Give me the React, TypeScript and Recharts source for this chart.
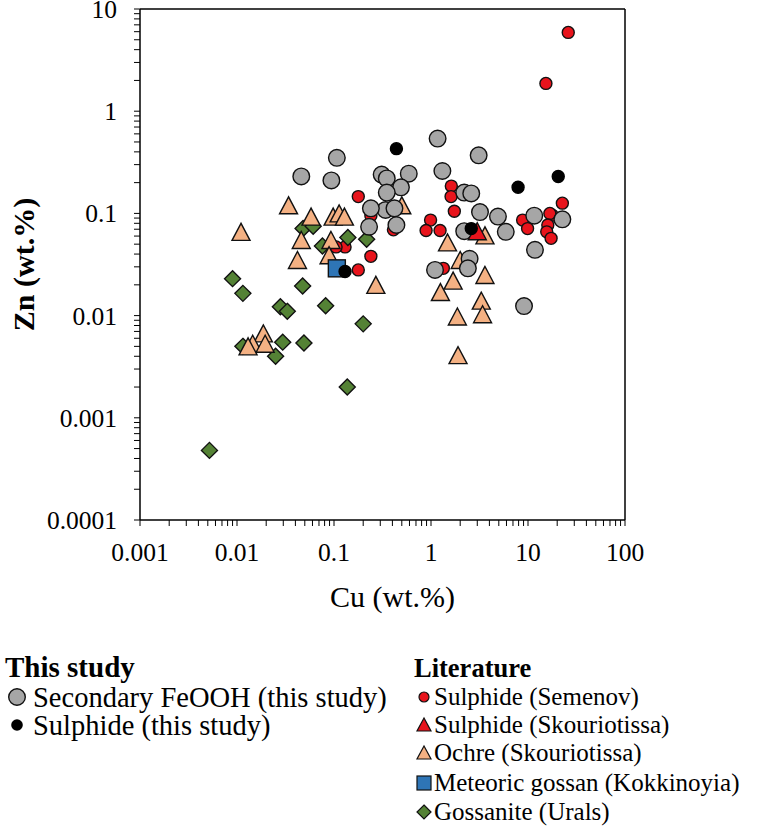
import React from 'react';
import {
  ScatterChart, Scatter, XAxis, YAxis, ReferenceLine,
} from 'recharts';

// Cu vs Zn (wt.%) for secondary FeOOH, sulphides, ochres and gossans

const feoohThisStudy = [
  { cu: 0.046, zn: 0.23 }, { cu: 0.107, zn: 0.35 }, { cu: 0.094, zn: 0.21 },
  { cu: 0.31, zn: 0.24 }, { cu: 0.35, zn: 0.22 }, { cu: 0.59, zn: 0.245 },
  { cu: 0.49, zn: 0.18 }, { cu: 0.35, zn: 0.16 }, { cu: 1.17, zn: 0.54 },
  { cu: 3.1, zn: 0.37 }, { cu: 1.31, zn: 0.26 }, { cu: 2.2, zn: 0.16 },
  { cu: 2.6, zn: 0.157 }, { cu: 0.34, zn: 0.108 }, { cu: 0.42, zn: 0.112 },
  { cu: 0.24, zn: 0.112 }, { cu: 0.44, zn: 0.077 }, { cu: 0.23, zn: 0.074 },
  { cu: 3.2, zn: 0.103 }, { cu: 4.9, zn: 0.093 }, { cu: 5.9, zn: 0.066 },
  { cu: 11.6, zn: 0.095 }, { cu: 22.6, zn: 0.0875 }, { cu: 11.8, zn: 0.044 },
  { cu: 2.2, zn: 0.067 }, { cu: 2.5, zn: 0.036 }, { cu: 2.4, zn: 0.029 },
  { cu: 1.1, zn: 0.028 }, { cu: 9.1, zn: 0.0124 },
];

const sulphideThisStudy = [
  { cu: 0.44, zn: 0.43 }, { cu: 7.9, zn: 0.18 }, { cu: 20.5, zn: 0.23 },
  { cu: 2.6, zn: 0.071 }, { cu: 0.13, zn: 0.027 },
];

const sulphideSemenov = [
  { cu: 26, zn: 5.9 }, { cu: 15.3, zn: 1.87 }, { cu: 1.62, zn: 0.185 },
  { cu: 1.61, zn: 0.146 }, { cu: 1.74, zn: 0.105 }, { cu: 0.99, zn: 0.086 },
  { cu: 0.89, zn: 0.068 }, { cu: 1.24, zn: 0.068 }, { cu: 1.34, zn: 0.029 },
  { cu: 8.8, zn: 0.086 }, { cu: 9.9, zn: 0.071 }, { cu: 22.6, zn: 0.126 },
  { cu: 17.8, zn: 0.096 }, { cu: 16.8, zn: 0.1 }, { cu: 16, zn: 0.077 },
  { cu: 15.6, zn: 0.066 }, { cu: 17.3, zn: 0.057 }, { cu: 0.178, zn: 0.146 },
  { cu: 0.24, zn: 0.095 }, { cu: 0.41, zn: 0.069 }, { cu: 0.24, zn: 0.038 },
  { cu: 0.178, zn: 0.028 }, { cu: 0.13, zn: 0.047 }, { cu: 0.105, zn: 0.047 },
];

const sulphideSkouriotissa = [{ cu: 3.0, zn: 0.067 }];

const ochreSkouriotissa = [
  { cu: 0.034, zn: 0.12 }, { cu: 0.011, zn: 0.066 }, { cu: 0.058, zn: 0.093 },
  { cu: 0.098, zn: 0.093 }, { cu: 0.113, zn: 0.1 }, { cu: 0.128, zn: 0.093 },
  { cu: 0.046, zn: 0.055 }, { cu: 0.093, zn: 0.055 }, { cu: 0.089, zn: 0.039 },
  { cu: 0.042, zn: 0.035 }, { cu: 0.27, zn: 0.02 }, { cu: 0.0187, zn: 0.0067 },
  { cu: 0.0145, zn: 0.0053 }, { cu: 0.0195, zn: 0.0053 }, { cu: 0.013, zn: 0.005 },
  { cu: 0.5, zn: 0.12 }, { cu: 1.48, zn: 0.052 }, { cu: 3.6, zn: 0.061 },
  { cu: 2.0, zn: 0.035 }, { cu: 3.6, zn: 0.025 }, { cu: 1.69, zn: 0.022 },
  { cu: 1.25, zn: 0.017 }, { cu: 3.3, zn: 0.014 }, { cu: 3.4, zn: 0.0103 },
  { cu: 1.87, zn: 0.0098 }, { cu: 1.9, zn: 0.0041 },
];

const meteoricGossan = [{ cu: 0.107, zn: 0.029 }];

const gossaniteUrals = [
  { cu: 0.009, zn: 0.023 }, { cu: 0.0115, zn: 0.0165 }, { cu: 0.048, zn: 0.071 },
  { cu: 0.061, zn: 0.075 }, { cu: 0.076, zn: 0.048 }, { cu: 0.139, zn: 0.058 },
  { cu: 0.217, zn: 0.056 }, { cu: 0.0475, zn: 0.0195 }, { cu: 0.028, zn: 0.0122 },
  { cu: 0.033, zn: 0.011 }, { cu: 0.082, zn: 0.0125 }, { cu: 0.2, zn: 0.0083 },
  { cu: 0.0115, zn: 0.005 }, { cu: 0.0296, zn: 0.0055 }, { cu: 0.049, zn: 0.0054 },
  { cu: 0.025, zn: 0.004 }, { cu: 0.137, zn: 0.002 }, { cu: 0.0052, zn: 0.00048 },
];

const xMajorTicks = [0.001, 0.01, 0.1, 1, 10, 100];
const yMajorTicks = [0.0001, 0.001, 0.01, 0.1, 1, 10];

const FONT = '"Liberation Serif", "Times New Roman", serif';
const GRAY = '#a6a6a6';
const RED = '#e8141c';
const OCHRE = '#f4b183';
const BLUE = '#2e75b6';
const GREEN = '#548235';
const EDGE = '#111';

// 1..9 x 10^n ticks across the decades of a log axis
const logTicks = (majors: number[]) => {
  const out: number[] = [];
  for (let i = 0; i < majors.length - 1; i++) {
    for (let m = 1; m < 10; m++) out.push(Number((m * majors[i]).toPrecision(3)));
  }
  out.push(majors[majors.length - 1]);
  return out;
};

const circle = (r: number, fill: string, stroke = EDGE) => (p: any) => (
  <circle cx={p.cx} cy={p.cy} r={r} fill={fill} stroke={stroke} strokeWidth={1.4} />
);

const triangle = (w: number, h: number, fill: string) => (p: any) => (
  <polygon
    points={`${p.cx},${p.cy - h / 2} ${p.cx - w / 2},${p.cy + h / 2} ${p.cx + w / 2},${p.cy + h / 2}`}
    fill={fill} stroke={EDGE} strokeWidth={1.4} strokeLinejoin="miter"
  />
);

const square = (s: number, fill: string) => (p: any) => (
  <rect x={p.cx - s / 2} y={p.cy - s / 2} width={s} height={s} fill={fill} stroke={EDGE} strokeWidth={1.4} />
);

const diamond = (d: number, fill: string) => (p: any) => (
  <polygon
    points={`${p.cx},${p.cy - d / 2} ${p.cx + d / 2},${p.cy} ${p.cx},${p.cy + d / 2} ${p.cx - d / 2},${p.cy}`}
    fill={fill} stroke={EDGE} strokeWidth={1.4}
  />
);

// two-column key under the plot: this study (left), literature (right)
const Legend = () => {
  const left = { fontFamily: FONT, fontSize: 28.5, fill: '#000' };
  const right = { fontFamily: FONT, fontSize: 25, fill: '#000' };
  const rows = [705, 733, 761, 791, 820];
  const ix = 424;
  const tx = 434;
  return (
    <svg width={762} height={826} style={{ position: 'absolute', left: 0, top: 0, pointerEvents: 'none' }}>
      <text x={5} y={677} {...left} fontSize={29} fontWeight="bold">This study</text>
      <circle cx={17} cy={697} r={8.3} fill={GRAY} stroke={EDGE} strokeWidth={1.4} />
      <text x={33} y={707} {...left}>Secondary FeOOH (this study)</text>
      <circle cx={17} cy={725} r={5.8} fill="#000" />
      <text x={33} y={735} {...left}>Sulphide (this study)</text>

      <text x={ix - 10} y={677} {...right} fontSize={26.5} fontWeight="bold">Literature</text>
      <circle cx={ix} cy={697} r={5} fill={RED} stroke={EDGE} strokeWidth={1.2} />
      <text x={tx} y={rows[0]} {...right}>Sulphide (Semenov)</text>
      <polygon points={`${ix},718 ${ix - 7},731 ${ix + 7},731`} fill={RED} stroke={EDGE} strokeWidth={1.2} />
      <text x={tx} y={rows[1]} {...right}>Sulphide (Skouriotissa)</text>
      <polygon points={`${ix},746 ${ix - 7},759 ${ix + 7},759`} fill={OCHRE} stroke={EDGE} strokeWidth={1.2} />
      <text x={tx} y={rows[2]} {...right}>Ochre (Skouriotissa)</text>
      <rect x={ix - 7} y={776} width={14} height={14} fill={BLUE} stroke={EDGE} strokeWidth={1.2} />
      <text x={tx} y={rows[3]} {...right}>Meteoric gossan (Kokkinoyia)</text>
      <polygon points={`${ix},805 ${ix + 7},812 ${ix},819 ${ix - 7},812`} fill={GREEN} stroke={EDGE} strokeWidth={1.2} />
      <text x={tx} y={rows[4]} {...right}>Gossanite (Urals)</text>
    </svg>
  );
};

const App = () => {
  const xTicks = logTicks(xMajorTicks);
  const yTicks = logTicks(yMajorTicks);
  const tickStyle = { fontFamily: FONT, fontSize: 25.5, fill: '#000' };

  return (
    <div style={{ position: 'absolute', left: 0, top: 0, width: 762, height: 826, background: '#fff', fontFamily: FONT }}>
      <ScatterChart width={762} height={640} margin={{ top: 9, right: 137, bottom: 30, left: 0 }}>
        <XAxis
          type="number" dataKey="cu" scale="log" domain={[0.001, 100]}
          ticks={xTicks} interval={0} height={90}
          tickFormatter={(v: number) => (xMajorTicks.includes(v) ? String(v) : '')}
          tick={tickStyle} tickSize={6} tickMargin={17}
          axisLine={{ stroke: '#000', strokeWidth: 1.5 }} tickLine={{ stroke: '#000' }}
          label={{
            content: ({ viewBox }: any) => (
              <text x={viewBox.x + viewBox.width / 2 + 10} y={607} textAnchor="middle"
                fontFamily={FONT} fontSize={30} fill="#000">Cu (wt.%)</text>
            ),
          }}
        />
        <YAxis
          type="number" dataKey="zn" scale="log" domain={[0.0001, 10]}
          ticks={yTicks} interval={0} width={140}
          tickFormatter={(v: number) => (yMajorTicks.includes(v) ? String(v) : '')}
          tick={tickStyle} tickSize={6} tickMargin={17}
          axisLine={{ stroke: '#000', strokeWidth: 1.5 }} tickLine={{ stroke: '#000' }}
          label={{
            content: ({ viewBox }: any) => {
              const cy = viewBox.y + viewBox.height / 2;
              return (
                <text x={23} y={cy} transform={`rotate(-90, 23, ${cy})`} textAnchor="middle"
                  dominantBaseline="central" fontFamily={FONT} fontSize={30} fontWeight="bold" fill="#000">
                  Zn (wt.%)
                </text>
              );
            },
          }}
        />
        <ReferenceLine y={10} stroke="#000" strokeWidth={1.5} />
        <ReferenceLine x={100} stroke="#000" strokeWidth={1.5} />

        <Scatter name="Sulphide (Semenov)" data={sulphideSemenov} shape={circle(6, RED)} isAnimationActive={false} />
        <Scatter name="Gossanite (Urals)" data={gossaniteUrals} shape={diamond(16, GREEN)} isAnimationActive={false} />
        <Scatter name="Ochre (Skouriotissa)" data={ochreSkouriotissa} shape={triangle(18, 17, OCHRE)} isAnimationActive={false} />
        <Scatter name="Secondary FeOOH (this study)" data={feoohThisStudy} shape={circle(8.3, GRAY)} isAnimationActive={false} />
        <Scatter name="Meteoric gossan (Kokkinoyia)" data={meteoricGossan} shape={square(17, BLUE)} isAnimationActive={false} />
        <Scatter name="Sulphide (Skouriotissa)" data={sulphideSkouriotissa} shape={triangle(18, 17, RED)} isAnimationActive={false} />
        <Scatter name="Sulphide (this study)" data={sulphideThisStudy} shape={circle(6, '#000', '#000')} isAnimationActive={false} />
      </ScatterChart>
      <Legend />
    </div>
  );
};

export default App;
